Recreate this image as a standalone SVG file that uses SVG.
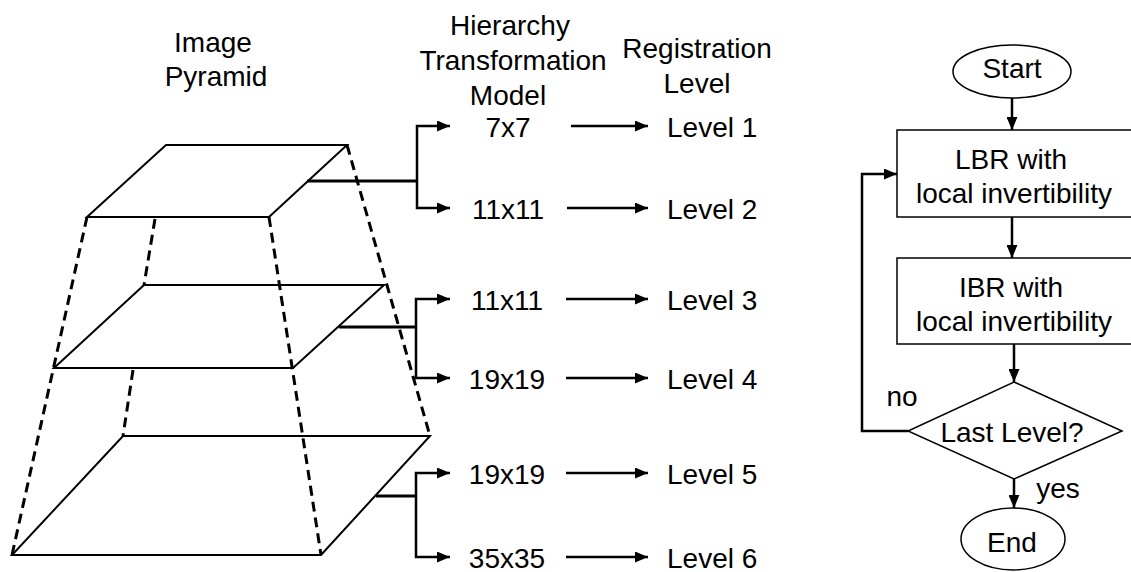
<svg xmlns="http://www.w3.org/2000/svg" width="1131" height="572" viewBox="0 0 1131 572">
  <style>
    text { font-family: "Liberation Sans", Arial, sans-serif; font-size: 28px; fill: #000; }
    .c { text-anchor: middle; }
    .plane { fill: none; stroke: #000; stroke-width: 2; stroke-linejoin: miter; }
    .dash { fill: none; stroke: #000; stroke-width: 3; stroke-dasharray: 10 6; }
    .bar { fill: none; stroke: #000; stroke-width: 3; }
    .arr { fill: none; stroke: #000; stroke-width: 2.5; marker-end: url(#head); }
    .shape { fill: #fff; stroke: #000; stroke-width: 1.5; }
  </style>
  <defs>
    <marker id="head" markerWidth="13" markerHeight="11" refX="13" refY="5.5" orient="auto" markerUnits="userSpaceOnUse">
      <path d="M0,0 L13,5.5 L0,11 Z" fill="#000"/>
    </marker>
  </defs>

  <!-- titles -->
  <g id="title-pyramid">
    <text class="c" x="213" y="52">Image</text>
    <text class="c" x="216" y="86">Pyramid</text>
  </g>
  <g id="title-model">
    <text class="c" x="510" y="35">Hierarchy</text>
    <text class="c" x="513" y="70">Transformation</text>
    <text class="c" x="508" y="105">Model</text>
  </g>
  <g id="title-level">
    <text class="c" x="697" y="58">Registration</text>
    <text class="c" x="697" y="93">Level</text>
  </g>

  <!-- image pyramid: three planes joined by dashed edges -->
  <g id="pyramid">
    <g id="dashed-edges">
      <line class="dash" x1="87" y1="217" x2="12" y2="555"/>
      <line class="dash" x1="155" y1="219" x2="144" y2="285"/>
      <line class="dash" x1="133" y1="370" x2="123" y2="436"/>
      <line class="dash" x1="269" y1="217" x2="321" y2="555"/>
      <line class="dash" x1="347" y1="145" x2="430" y2="436"/>
    </g>
    <polygon id="plane-top" class="plane" stroke-width="2.4" points="166,145 347,145 269,217 87,217"/>
    <polygon id="plane-middle" class="plane" points="144,285 384,285 293,368 54,368"/>
    <polygon id="plane-bottom" class="plane" points="123,436 430,436 321,555 12,555"/>
  </g>

  <!-- model sizes -->
  <g id="models">
    <text class="c" x="508" y="137">7x7</text>
    <text class="c" x="508" y="219">11x11</text>
    <text class="c" x="507" y="310">11x11</text>
    <text class="c" x="507" y="389">19x19</text>
    <text class="c" x="507" y="484">19x19</text>
    <text class="c" x="507" y="568">35x35</text>
  </g>

  <!-- registration levels -->
  <g id="levels">
    <text x="667" y="137">Level 1</text>
    <text x="667" y="219">Level 2</text>
    <text x="667" y="310">Level 3</text>
    <text x="667" y="389">Level 4</text>
    <text x="667" y="484">Level 5</text>
    <text x="667" y="568">Level 6</text>
  </g>

  <!-- brackets and arrows -->
  <g id="connectors">
    <line class="bar" x1="307" y1="181" x2="417" y2="181"/>
    <polyline class="arr" stroke-width="3" points="417,181 417,126 450,126"/>
    <polyline class="arr" stroke-width="3" points="417,181 417,208 450,208"/>
    <line class="bar" x1="339" y1="327" x2="416" y2="327"/>
    <polyline class="arr" stroke-width="3" points="416,327 416,299 450,299"/>
    <polyline class="arr" stroke-width="3" points="416,327 416,378 450,378"/>
    <line class="bar" x1="376" y1="496" x2="416" y2="496"/>
    <polyline class="arr" stroke-width="3" points="416,496 416,473 450,473"/>
    <polyline class="arr" stroke-width="3" points="416,496 416,557 450,557"/>

    <line class="arr" x1="571" y1="126" x2="648" y2="126"/>
    <line class="arr" x1="567" y1="208" x2="648" y2="208"/>
    <line class="arr" x1="566" y1="299" x2="648" y2="299"/>
    <line class="arr" x1="566" y1="378" x2="648" y2="378"/>
    <line class="arr" x1="566" y1="473" x2="648" y2="473"/>
    <line class="arr" x1="566" y1="557" x2="648" y2="557"/>

    <!-- flowchart links -->
    <line class="arr" x1="1012" y1="98" x2="1012" y2="130"/>
    <line class="arr" x1="1012" y1="217" x2="1012" y2="258"/>
    <line class="arr" x1="1014" y1="344" x2="1014" y2="382"/>
    <line class="arr" x1="1014" y1="479" x2="1014" y2="508"/>
    <polyline class="arr" points="908,431 862,431 862,174 897,174"/>
  </g>

  <!-- flowchart -->
  <g id="start">
    <ellipse class="shape" cx="1012" cy="71.5" rx="59" ry="26.5"/>
    <text class="c" x="1012" y="78">Start</text>
  </g>
  <g id="lbr">
    <rect class="shape" x="897" y="130" width="240" height="87"/>
    <text class="c" x="1011" y="169">LBR with</text>
    <text class="c" x="1014" y="203">local invertibility</text>
  </g>
  <g id="ibr">
    <rect class="shape" x="897" y="258" width="240" height="86"/>
    <text class="c" x="1011" y="297">IBR with</text>
    <text class="c" x="1014" y="331">local invertibility</text>
  </g>
  <g id="last-level">
    <polygon class="shape" points="1014,382 1122,431 1014,479 908,431"/>
    <text class="c" x="1012" y="442">Last Level?</text>
  </g>
  <g id="end">
    <ellipse class="shape" cx="1013" cy="539" rx="52" ry="31"/>
    <text class="c" x="1012" y="552">End</text>
  </g>
  <g id="branch-labels">
    <text class="c" x="902" y="406">no</text>
    <text class="c" x="1058" y="498">yes</text>
  </g>
</svg>
